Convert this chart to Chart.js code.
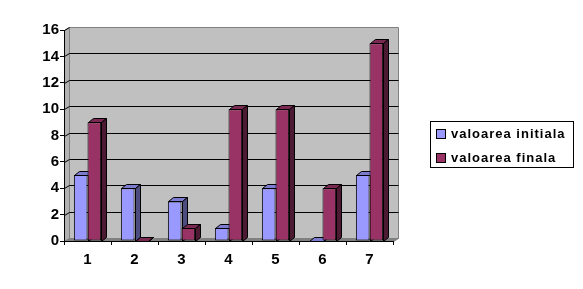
<!DOCTYPE html>
<html>
<head>
<meta charset="utf-8">
<script src="https://cdn.jsdelivr.net/npm/chart.js@4"></script>
<style>
  html, body { margin: 0; padding: 0; background: #fff; }
  #wrap { width: 583px; height: 289px; position: relative; }
</style>
</head>
<body>
<div id="wrap"><canvas id="chart"></canvas></div>
<script>
// data
const categories = ["1", "2", "3", "4", "5", "6", "7"];
const initialValues = [5, 4, 3, 1, 4, 0, 5];
const finalValues = [9, 0, 1, 10, 10, 4, 15];
const seriesNames = ["valoarea initiala", "valoarea finala"];
const yMax = 16;
const yStep = 2;

// excel-ish look
const FRONT = ["#9999FF", "#993366"];
const TOP = ["#7B7BD0", "#7A2952"];
const SIDE = ["#4D4D80", "#4D1A33"];
const DX = 5, DY = -4;       // bar depth
const WDX = 5, WDY = -3;     // wall depth
const FONT = "'Liberation Sans', Arial, sans-serif";

function poly(ctx, pts, fill, stroke) {
  ctx.beginPath();
  ctx.moveTo(pts[0][0], pts[0][1]);
  for (let i = 1; i < pts.length; i++) ctx.lineTo(pts[i][0], pts[i][1]);
  ctx.closePath();
  if (fill) { ctx.fillStyle = fill; ctx.fill(); }
  if (stroke) { ctx.strokeStyle = stroke; ctx.lineWidth = 1; ctx.stroke(); }
}

const depthPlugin = {
  id: "depth3d",
  beforeDraw(chart) {
    const ctx = chart.ctx;
    const a = chart.chartArea;
    const ys = chart.scales.y;
    const L = a.left + 0.5, R = a.right + 0.5, T = a.top + 0.5, B = a.bottom + 0.5;
    ctx.save();
    // back wall
    poly(ctx, [[L + WDX, T + WDY], [R + WDX, T + WDY], [R + WDX, B + WDY], [L + WDX, B + WDY]], "#C0C0C0", "#808080");
    // left side wall
    poly(ctx, [[L, T], [L + WDX, T + WDY], [L + WDX, B + WDY], [L, B]], "#B2B2B2", "#808080");
    // floor
    poly(ctx, [[L, B], [L + WDX, B + WDY], [R + WDX, B + WDY], [R, B]], "#808080", "#808080");
    // gridlines on the wall
    ctx.strokeStyle = "#000";
    ctx.lineWidth = 1;
    for (let v = yStep; v <= yMax; v += yStep) {
      const y = Math.round(ys.getPixelForValue(v)) + 0.5;
      ctx.beginPath();
      ctx.moveTo(L, y);
      ctx.lineTo(L + WDX, y + WDY);
      if (v < yMax) ctx.lineTo(R + WDX, y + WDY);
      ctx.stroke();
    }
    ctx.restore();
  },
  // bars are drawn category by category below, so the 3d faces overlap right
  beforeDatasetDraw() {
    return false;
  },
  afterDatasetsDraw(chart) {
    const ctx = chart.ctx;
    const metas = [chart.getDatasetMeta(0), chart.getDatasetMeta(1)];
    ctx.save();
    categories.forEach((c, j) => {
      metas.forEach((meta, i) => {
        const bar = meta.data[j];
        bar.draw(ctx, chart.chartArea);
        const p = bar.getProps(["x", "y", "base", "width"], true);
        const l = Math.round(p.x - p.width / 2) + 0.5;
        const r = Math.round(p.x + p.width / 2) + 0.5;
        const t = Math.round(Math.min(p.y, p.base)) + 0.5;
        const b = Math.round(p.base) + 0.5;
        poly(ctx, [[l, t], [l + DX, t + DY], [r + DX, t + DY], [r, t]], TOP[i], "#000");
        poly(ctx, [[r, t], [r + DX, t + DY], [r + DX, b + DY], [r, b]], SIDE[i], "#000");
        if (t === b) {
          ctx.beginPath(); ctx.moveTo(l, b); ctx.lineTo(r, b); ctx.strokeStyle = "#000"; ctx.stroke();
        }
      });
    });
    ctx.restore();
  },
  afterDraw(chart) {
    // legend box
    const ctx = chart.ctx;
    ctx.save();
    ctx.fillStyle = "#fff";
    ctx.fillRect(430, 121, 144, 47);
    ctx.strokeStyle = "#000";
    ctx.lineWidth = 1;
    ctx.strokeRect(430.5, 121.5, 143, 46);
    ctx.font = "bold 13px " + FONT;
    ctx.letterSpacing = "1px";
    ctx.textBaseline = "middle";
    ctx.textAlign = "left";
    seriesNames.forEach((name, k) => {
      const y = 134 + k * 24;
      ctx.fillStyle = FRONT[k];
      ctx.fillRect(436, y - 5, 10, 10);
      ctx.strokeRect(436.5, y - 4.5, 9, 9);
      ctx.fillStyle = "#000";
      ctx.fillText(name, 451, y);
    });
    ctx.restore();
  },
};

const ctx = document.getElementById("chart").getContext("2d");

new Chart(ctx, {
  type: "bar",
  data: {
    labels: categories,
    datasets: [
      { label: seriesNames[0], data: initialValues, backgroundColor: FRONT[0], borderColor: "#000", borderWidth: 1, borderSkipped: false },
      { label: seriesNames[1], data: finalValues, backgroundColor: FRONT[1], borderColor: "#000", borderWidth: 1, borderSkipped: false },
    ],
  },
  options: {
    responsive: true,
    maintainAspectRatio: false,
    animation: false,
    layout: { padding: { top: 30, right: 190, bottom: 0, left: 0 } },
    datasets: { bar: { categoryPercentage: 0.58, barPercentage: 1 } },
    scales: {
      x: {
        grid: { display: true, drawOnChartArea: false, drawTicks: true, tickLength: 4, color: "#000", offset: true },
        border: { display: true, color: "#000", width: 1 },
        ticks: { color: "#000", font: { family: FONT, size: 15, weight: "bold" }, padding: 6, maxRotation: 0 },
        afterFit: (s) => { s.height = 48; },
      },
      y: {
        min: 0,
        max: yMax,
        ticks: { stepSize: yStep, color: "#000", font: { family: FONT, size: 15, weight: "bold" }, padding: 1 },
        grid: { display: true, drawOnChartArea: false, drawTicks: true, tickLength: 4, color: "#000" },
        border: { display: true, color: "#000", width: 1 },
        afterFit: (s) => { s.width = 64; },
      },
    },
    plugins: { legend: { display: false }, tooltip: { enabled: false }, title: { display: false } },
  },
  plugins: [depthPlugin],
});
</script>
</body>
</html>
